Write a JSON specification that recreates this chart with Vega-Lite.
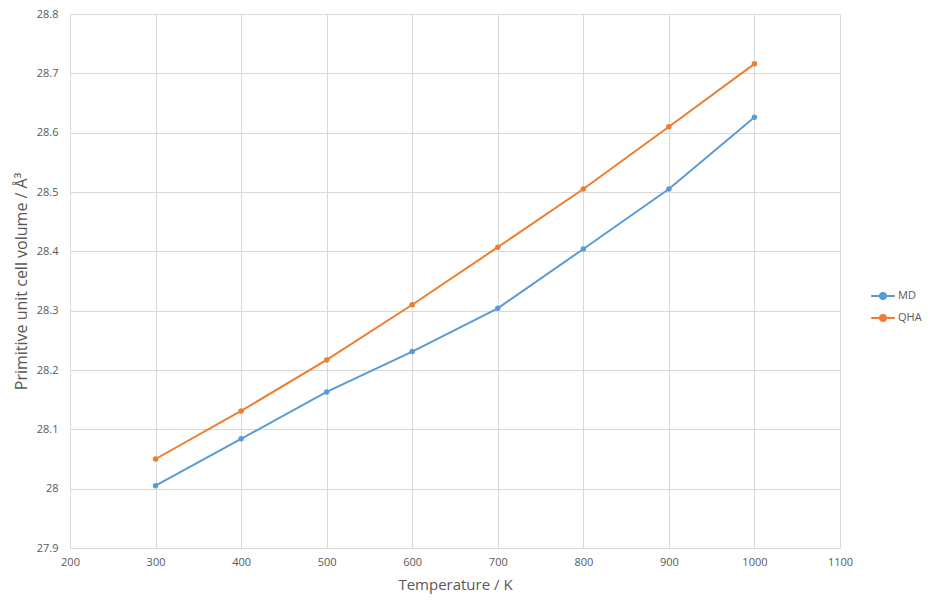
{
  "$schema": "https://vega.github.io/schema/vega-lite/v6.json",
  "width": 770,
  "height": 534,
  "autosize": "none",
  "padding": {"left": 70, "top": 14, "right": 93, "bottom": 53},
  "background": "white",
  "config": {
    "view": {"stroke": null},
    "font": "Open Sans",
    "axis": {
      "gridColor": "#D9D9D9",
      "gridWidth": 1,
      "domain": false,
      "ticks": false,
      "labelColor": "#595959",
      "labelFontSize": 11,
      "labelFlush": false,
      "labelBound": false,
      "titleColor": "#595959",
      "titleFontSize": 15,
      "titleFontWeight": "normal"
    }
  },
  "data": {
    "values": [
      {"T": 300, "series": "MD", "V": 28.005},
      {"T": 400, "series": "MD", "V": 28.084},
      {"T": 500, "series": "MD", "V": 28.163},
      {"T": 600, "series": "MD", "V": 28.231},
      {"T": 700, "series": "MD", "V": 28.304},
      {"T": 800, "series": "MD", "V": 28.404},
      {"T": 900, "series": "MD", "V": 28.505},
      {"T": 1000, "series": "MD", "V": 28.626},
      {"T": 300, "series": "QHA", "V": 28.050},
      {"T": 400, "series": "QHA", "V": 28.131},
      {"T": 500, "series": "QHA", "V": 28.217},
      {"T": 600, "series": "QHA", "V": 28.310},
      {"T": 700, "series": "QHA", "V": 28.407},
      {"T": 800, "series": "QHA", "V": 28.505},
      {"T": 900, "series": "QHA", "V": 28.610},
      {"T": 1000, "series": "QHA", "V": 28.716}
    ]
  },
  "mark": {"type": "line", "strokeWidth": 2, "point": {"size": 30, "filled": true, "opacity": 1}},
  "encoding": {
    "x": {
      "field": "T", "type": "quantitative",
      "scale": {"domain": [200, 1100], "nice": false, "zero": false},
      "axis": {"values": [200, 300, 400, 500, 600, 700, 800, 900, 1000, 1100], "title": "Temperature / K", "labelPadding": 8, "titlePadding": 10, "format": "d"}
    },
    "y": {
      "field": "V", "type": "quantitative",
      "scale": {"domain": [27.9, 28.8], "nice": false, "zero": false},
      "axis": {"values": [27.9, 28.0, 28.1, 28.2, 28.3, 28.4, 28.5, 28.6, 28.7, 28.8], "title": "Primitive unit cell volume / Å³", "titleFontSize": 16, "labelPadding": 12, "titlePadding": 7, "labelExpr": "datum.value == 28 ? '28' : format(datum.value, '.1f')"}
    },
    "color": {
      "field": "series", "type": "nominal",
      "scale": {"domain": ["MD", "QHA"], "range": ["#5B9BD5", "#ED7D31"]},
      "legend": {
        "title": null,
        "orient": "none",
        "legendX": 800,
        "legendY": 269,
        "labelColor": "#595959",
        "labelFontSize": 11,
        "rowPadding": 2,
        "symbolType": "M-1,0L1,0M0.25,0A0.25,0.25 0 1,1 -0.25,0A0.25,0.25 0 1,1 0.25,0Z",
        "symbolSize": 560,
        "symbolStrokeWidth": 2,
        "labelOffset": 2,
        "encode": {
          "symbols": {"update": {"fill": {"scale": "color", "field": "value"}, "fillOpacity": {"value": 1}}}
        }
      }
    }
  }
}
